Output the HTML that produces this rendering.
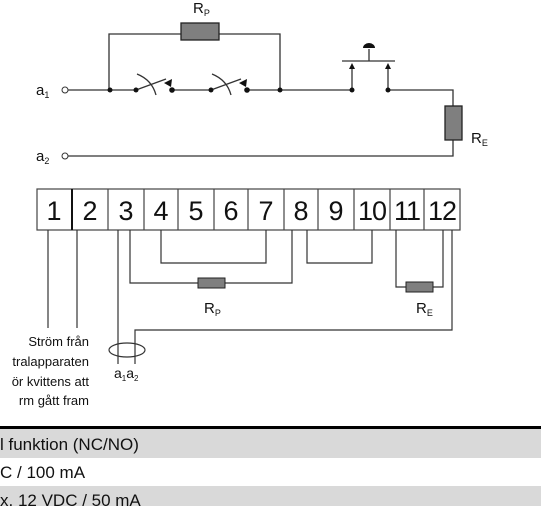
<!DOCTYPE html>
<html><head><meta charset="utf-8"><style>
html,body{margin:0;padding:0;width:541px;height:506px;overflow:hidden;background:#fff}
svg{display:block}
text{font-family:"Liberation Sans",sans-serif;fill:#111}
</style></head><body>
<svg width="541" height="506" viewBox="0 0 541 506">
<g stroke="#333" stroke-width="1.3" fill="none">
 <polyline points="109,90 109,34 181,34"/><polyline points="219,34 280,34 280,90"/>
 <line x1="68" y1="90" x2="136" y2="90"/><line x1="172" y1="90" x2="211" y2="90"/><line x1="247" y1="90" x2="352" y2="90"/>
 <polyline points="388,90 453,90 453,106"/><polyline points="453,140 453,156 68,156"/>
 <line x1="136" y1="90" x2="166" y2="79"/><line x1="211" y1="90" x2="241" y2="79"/>
 <path d="M137,74 Q152,80 156,95"/><path d="M212,74 Q227,80 231,95"/>
 <line x1="342" y1="61" x2="395" y2="61"/><line x1="369" y1="49" x2="369" y2="61"/>
 <line x1="352" y1="90" x2="352" y2="67"/><line x1="388" y1="90" x2="388" y2="67"/>
</g>
<g fill="#111">
 <circle cx="110" cy="90" r="2.5"/><circle cx="136" cy="90" r="2.5"/><circle cx="172" cy="90" r="2.8"/><circle cx="211" cy="90" r="2.5"/><circle cx="247" cy="90" r="2.8"/><circle cx="280" cy="90" r="2.5"/><circle cx="352" cy="90" r="2.5"/><circle cx="388" cy="90" r="2.5"/>
 <path d="M164,83 L172,79 L171,87Z"/><path d="M239,83 L247,79 L246,87Z"/>
 <path d="M349,69 L352,63 L355,69Z"/><path d="M385,69 L388,63 L391,69Z"/>
 <path d="M363,48 A6,5 0 0 1 375,48 Z"/>
</g>
<circle cx="65" cy="90" r="3" fill="#fff" stroke="#333"/><circle cx="65" cy="156" r="3" fill="#fff" stroke="#333"/>
<rect x="181" y="23" width="38" height="17" fill="#7f7f7f" stroke="#222" stroke-width="1.3"/>
<rect x="445" y="106" width="17" height="34" fill="#7f7f7f" stroke="#222" stroke-width="1.3"/>
<text x="193" y="13" font-size="15">R<tspan font-size="9" dy="3">P</tspan></text>
<text x="471" y="143" font-size="15">R<tspan font-size="9" dy="3">E</tspan></text>
<text x="36" y="95" font-size="15">a<tspan font-size="9" dy="3">1</tspan></text>
<text x="36" y="161" font-size="15">a<tspan font-size="9" dy="3">2</tspan></text>
<g>
 <rect x="37" y="189" width="423" height="41" fill="#fff" stroke="#444" stroke-width="1.2"/>
 <g stroke="#444" stroke-width="1.2">
  <line x1="72" y1="189" x2="72" y2="230" stroke="#111" stroke-width="2"/><line x1="108" y1="189" x2="108" y2="230"/><line x1="144" y1="189" x2="144" y2="230"/><line x1="178" y1="189" x2="178" y2="230"/><line x1="214" y1="189" x2="214" y2="230"/><line x1="248" y1="189" x2="248" y2="230"/><line x1="284" y1="189" x2="284" y2="230"/><line x1="318" y1="189" x2="318" y2="230"/><line x1="354" y1="189" x2="354" y2="230"/><line x1="390" y1="189" x2="390" y2="230"/><line x1="424" y1="189" x2="424" y2="230"/>
 </g>
 <g font-size="27" text-anchor="middle">
  <text x="54" y="220">1</text><text x="90" y="220">2</text><text x="126" y="220">3</text><text x="161" y="220">4</text><text x="196" y="220">5</text><text x="231" y="220">6</text><text x="266" y="220">7</text><text x="301" y="220">8</text><text x="336" y="220">9</text><text x="372" y="220" letter-spacing="-1">10</text><text x="407" y="220" letter-spacing="-1">11</text><text x="442" y="220" letter-spacing="-1">12</text>
 </g>
</g>
<g stroke="#333" stroke-width="1.2" fill="none">
 <line x1="48" y1="230" x2="48" y2="328"/><line x1="77" y1="230" x2="77" y2="328"/>
 <line x1="118" y1="230" x2="118" y2="364"/>
 <polyline points="130,230 130,283 198,283"/><polyline points="225,283 292,283 292,230"/>
 <polyline points="161,230 161,263 266,263 266,230"/><polyline points="307,230 307,263 372,263 372,230"/>
 <polyline points="396,230 396,287 406,287"/><polyline points="433,287 443,287 443,230"/>
 <polyline points="452,230 452,330 135,330 135,364"/>
 <ellipse cx="127" cy="350" rx="18" ry="7"/>
</g>
<rect x="198" y="278" width="27" height="10" fill="#7f7f7f" stroke="#222"/>
<rect x="406" y="282" width="27" height="10" fill="#7f7f7f" stroke="#222"/>
<text x="204" y="313" font-size="15">R<tspan font-size="9" dy="3">P</tspan></text>
<text x="416" y="313" font-size="15">R<tspan font-size="9" dy="3">E</tspan></text>
<text x="114" y="378" font-size="14">a<tspan font-size="8" dy="3">1</tspan><tspan dy="-3">a</tspan><tspan font-size="8" dy="3">2</tspan></text>
<g font-size="13" text-anchor="end">
 <text x="89" y="346">Ström från</text><text x="89" y="366">tralapparaten</text><text x="89" y="386">ör kvittens att</text><text x="89" y="405">rm gått fram</text>
</g>
<rect x="0" y="426" width="541" height="3" fill="#000"/>
<rect x="0" y="429" width="541" height="29" fill="#d9d9d9"/>
<rect x="0" y="486" width="541" height="20" fill="#d9d9d9"/>
<g font-size="17">
 <text x="0" y="450">l funktion (NC/NO)</text><text x="0" y="478">C / 100 mA</text><text x="0" y="506">x. 12 VDC / 50 mA</text>
</g>
</svg>
</body></html>
